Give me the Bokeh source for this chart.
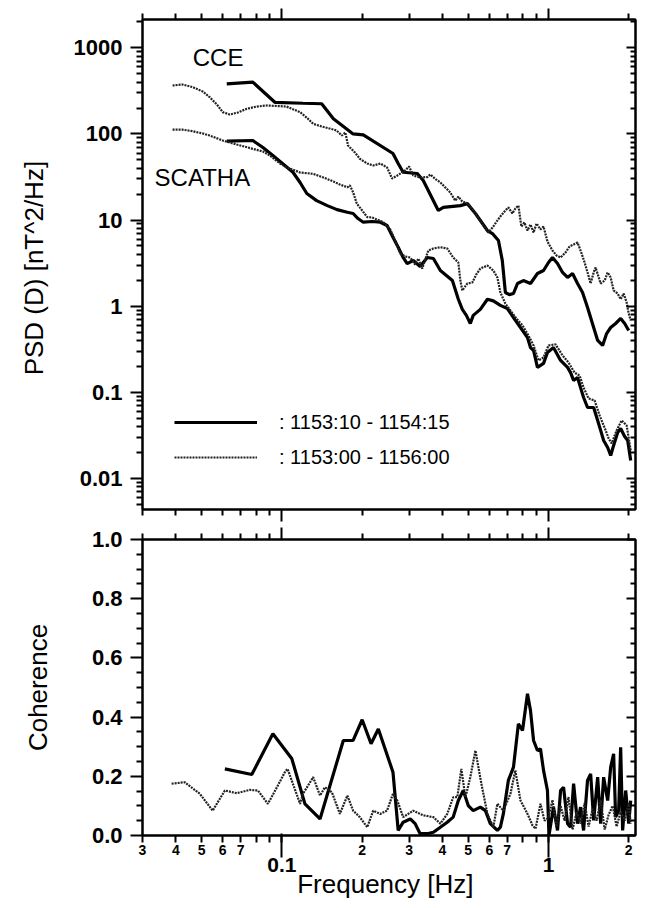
from bokeh.plotting import figure
from bokeh.layouts import column
from bokeh.models import (LogAxis, LinearAxis, FixedTicker, Range1d, Label,
                          Legend, LegendItem)
from bokeh.embed import file_html
from bokeh.resources import INLINE

FONT = "Liberation Sans"

# ---------------- data ----------------
cce_solid_f = [0.0621, 0.0778, 0.0941, 0.120, 0.141, 0.156, 0.185, 0.202, 0.261, 0.273,
               0.285, 0.322, 0.339, 0.386, 0.403, 0.467, 0.496, 0.532, 0.590, 0.616,
               0.649, 0.671, 0.689, 0.713, 0.739, 0.765, 0.805, 0.856, 0.909, 0.958,
               1.00, 1.035, 1.081, 1.129, 1.179, 1.231, 1.285, 1.342, 1.401, 1.477,
               1.529, 1.596, 1.652, 1.711, 1.786, 1.865, 1.931, 1.999]
cce_solid_psd = [382, 399, 233, 227, 224, 150, 100, 97.6, 59.2, 45.3,
                 35.9, 34.7, 28.8, 12.9, 14.0, 14.7, 15.5, 11.9, 7.55, 6.97,
                 5.78, 3.38, 1.44, 1.36, 1.40, 1.83, 1.98, 1.83, 2.39, 2.59,
                 3.21, 3.67, 3.12, 2.46, 2.15, 2.39, 1.83, 1.44, 0.963, 0.564,
                 0.399, 0.349, 0.480, 0.564, 0.628, 0.718, 0.628, 0.521]

cce_dot_f = [0.0389, 0.0424, 0.0463, 0.0505, 0.0536, 0.0570, 0.0600, 0.0637, 0.0683, 0.0739,
             0.0805, 0.0878, 0.0958, 0.104, 0.117, 0.125, 0.131, 0.141, 0.152, 0.160,
             0.168, 0.173, 0.177, 0.188, 0.196, 0.209, 0.220, 0.234, 0.248, 0.259,
             0.271, 0.290, 0.300, 0.311, 0.330, 0.351, 0.360, 0.379, 0.393, 0.410,
             0.428, 0.447, 0.459, 0.475, 0.500, 0.522, 0.555, 0.580, 0.595, 0.621,
             0.643, 0.660, 0.689, 0.707, 0.732, 0.751, 0.771, 0.791, 0.812, 0.834,
             0.856, 0.879, 0.902, 0.933, 0.958, 0.991, 1.035, 1.072, 1.110, 1.158,
             1.199, 1.242, 1.285, 1.319, 1.366, 1.401, 1.439, 1.477, 1.502, 1.569,
             1.624, 1.667, 1.711, 1.755, 1.817, 1.865, 1.914, 1.964, 1.999, 2.034]
cce_dot_psd = [365, 375, 349, 311, 267, 220, 179, 168, 177, 196,
               208, 214, 211, 208, 179, 151, 131, 122, 115, 110,
               95.8, 104, 73.3, 60.8, 51.4, 45.3, 42.9, 45.3, 40.7, 30.3,
               32.9, 37.6, 41.8, 32.9, 31.2, 31.5, 33.8, 29.5, 27.3, 23.9,
               20.9, 16.8, 18.7, 16.4, 15.5, 12.9, 9.87, 7.96, 7.16, 8.41,
               9.87, 11.0, 12.9, 14.0, 11.9, 13.6, 14.7, 8.41, 9.35, 7.55,
               8.87, 7.16, 9.11, 7.76, 8.41, 5.63, 4.42, 3.87, 3.67, 4.19,
               4.92, 5.19, 5.48, 4.42, 3.21, 2.46, 1.83, 2.46, 2.81, 1.83,
               1.98, 2.46, 2.15, 1.52, 1.40, 1.20, 1.40, 1.10, 0.821, 0.681]

sca_solid_f = [0.0621, 0.0778, 0.0849, 0.0925, 0.101, 0.110, 0.117, 0.124, 0.135, 0.148,
               0.161, 0.176, 0.185, 0.193, 0.202, 0.218, 0.234, 0.248, 0.261, 0.273,
               0.285, 0.295, 0.311, 0.330, 0.351, 0.370, 0.393, 0.414, 0.436, 0.459,
               0.475, 0.492, 0.509, 0.522, 0.555, 0.590, 0.621, 0.660, 0.701, 0.739,
               0.785, 0.834, 0.856, 0.879, 0.909, 0.958, 0.991, 1.044, 1.110, 1.179,
               1.210, 1.242, 1.285, 1.319, 1.354, 1.401, 1.477, 1.529, 1.569, 1.610,
               1.667, 1.711, 1.755, 1.817, 1.865, 1.931, 1.982, 2.034]
sca_solid_psd = [82.3, 83.8, 69.5, 56.1, 44.7, 35.9, 27.3, 20.3, 16.8, 14.7,
                 13.2, 12.3, 11.9, 10.4, 9.43, 9.61, 9.43, 8.63, 6.31, 4.83,
                 3.67, 3.12, 3.39, 2.88, 3.67, 3.57, 2.59, 2.27, 1.98, 1.20,
                 0.916, 0.780, 0.628, 0.780, 0.916, 1.20, 1.15, 1.02, 0.938, 0.737,
                 0.564, 0.432, 0.330, 0.305, 0.194, 0.216, 0.289, 0.330, 0.234, 0.194,
                 0.169, 0.137, 0.148, 0.113, 0.0868, 0.0664, 0.0664, 0.047, 0.036, 0.0275,
                 0.0228, 0.0184, 0.0241, 0.0340, 0.0379, 0.0306, 0.0275, 0.0161]

sca_dot_f = [0.0389, 0.0424, 0.0463, 0.0505, 0.0536, 0.0600, 0.0677, 0.0778, 0.0849, 0.0901,
             0.0983, 0.104, 0.112, 0.117, 0.131, 0.143, 0.156, 0.165, 0.176, 0.180,
             0.185, 0.191, 0.200, 0.209, 0.218, 0.228, 0.240, 0.255, 0.266, 0.278,
             0.290, 0.303, 0.316, 0.325, 0.336, 0.354, 0.370, 0.393, 0.417, 0.439,
             0.459, 0.467, 0.475, 0.496, 0.518, 0.536, 0.555, 0.590, 0.621, 0.643,
             0.660, 0.689, 0.720, 0.758, 0.799, 0.841, 0.879, 0.917, 0.958, 1.00,
             1.062, 1.129, 1.189, 1.252, 1.308, 1.354, 1.414, 1.489, 1.555, 1.638,
             1.681, 1.725, 1.801, 1.881, 1.964, 2.034]
sca_dot_psd = [112, 112, 107.5, 101, 95.8, 83.8, 75.3, 67.1, 62.5, 56.1,
               45.3, 41.0, 37.6, 35.6, 34.4, 31.2, 28.0, 25.8, 24.0, 25.2,
               20.9, 15.5, 12.9, 10.8, 10.7, 10.1, 9.43, 7.76, 5.78, 4.08,
               3.77, 3.67, 3.04, 3.57, 2.73, 4.42, 4.67, 4.83, 4.67, 3.67,
               3.21, 1.98, 1.52, 1.83, 1.88, 2.33, 2.73, 2.96, 2.59, 2.15,
               1.44, 1.07, 0.889, 0.718, 0.596, 0.456, 0.349, 0.234, 0.253, 0.349,
               0.36, 0.267, 0.221, 0.169, 0.156, 0.113, 0.0845, 0.0802, 0.0537, 0.036,
               0.029, 0.0254, 0.036, 0.047, 0.0411, 0.0211]

coh_solid_f = [0.0611, 0.0771, 0.0925, 0.109, 0.122, 0.139, 0.170, 0.185, 0.200, 0.216,
               0.230, 0.261, 0.273, 0.285, 0.303, 0.316, 0.330, 0.351, 0.370, 0.393,
               0.417, 0.439, 0.459, 0.479, 0.500, 0.522, 0.555, 0.580, 0.605, 0.643,
               0.660, 0.677, 0.707, 0.739, 0.771, 0.799, 0.834, 0.856, 0.879, 0.909,
               0.933, 0.958, 0.991, 1.004, 1.044, 1.081, 1.110, 1.139, 1.179, 1.210,
               1.242, 1.285, 1.319, 1.354, 1.401, 1.439, 1.477, 1.529, 1.569, 1.610,
               1.667, 1.711, 1.755, 1.786, 1.833, 1.865, 1.897, 1.948, 1.999, 2.034]
coh_solid = [0.225, 0.206, 0.344, 0.259, 0.107, 0.056, 0.321, 0.321, 0.391, 0.310,
             0.360, 0.214, 0.017, 0.045, 0.056, 0.040, 0.006, 0.006, 0.011, 0.028,
             0.045, 0.062, 0.118, 0.152, 0.101, 0.084, 0.096, 0.084, 0.040, 0.017,
             0.028, 0.073, 0.186, 0.231, 0.377, 0.355, 0.479, 0.422, 0.321, 0.287,
             0.293, 0.220, 0.152, 0.0, 0.096, 0.017, 0.152, 0.163, 0.040, 0.028,
             0.175, 0.040, 0.096, 0.017, 0.186, 0.208, 0.051, 0.197, 0.040, 0.197,
             0.118, 0.231, 0.276, 0.062, 0.084, 0.298, 0.017, 0.152, 0.040, 0.118]

coh_dot_f = [0.0386, 0.0432, 0.0492, 0.0550, 0.0611, 0.0677, 0.0758, 0.0813, 0.0886, 0.0958,
             0.103, 0.105, 0.117, 0.120, 0.131, 0.139, 0.145, 0.154, 0.165, 0.176,
             0.185, 0.196, 0.209, 0.220, 0.234, 0.248, 0.261, 0.271, 0.285, 0.311,
             0.339, 0.370, 0.393, 0.417, 0.439, 0.455, 0.471, 0.488, 0.509, 0.532,
             0.560, 0.590, 0.621, 0.643, 0.677, 0.720, 0.751, 0.785, 0.805, 0.834,
             0.871, 0.894, 0.933, 0.966, 1.00, 1.035, 1.072, 1.110, 1.149, 1.189,
             1.231, 1.275, 1.319, 1.366, 1.414, 1.464, 1.515, 1.569, 1.624, 1.681,
             1.740, 1.801, 1.865, 1.931, 1.999, 2.034]
coh_dot = [0.175, 0.180, 0.141, 0.084, 0.152, 0.143, 0.154, 0.152, 0.107, 0.163,
           0.217, 0.225, 0.107, 0.141, 0.197, 0.135, 0.163, 0.146, 0.073, 0.135,
           0.084, 0.062, 0.028, 0.084, 0.073, 0.084, 0.141, 0.118, 0.062, 0.084,
           0.068, 0.062, 0.040, 0.073, 0.129, 0.130, 0.225, 0.129, 0.197, 0.287,
           0.175, 0.073, 0.028, 0.107, 0.084, 0.141, 0.220, 0.118, 0.100, 0.073,
           0.034, 0.023, 0.107, 0.050, 0.060, 0.120, 0.030, 0.100, 0.050, 0.130,
           0.020, 0.080, 0.040, 0.110, 0.030, 0.090, 0.050, 0.120, 0.020, 0.070,
           0.100, 0.030, 0.080, 0.050, 0.110, 0.040]

# ticks and tick labels
x_major_ticks = [0.1, 1.0]
x_minor_ticks = [0.03, 0.04, 0.05, 0.06, 0.07, 0.08, 0.09,
                 0.2, 0.3, 0.4, 0.5, 0.6, 0.7, 0.8, 0.9, 2.0]
x_small_ticks = [0.03, 0.04, 0.05, 0.06, 0.07, 0.08, 0.09, 0.1,
                 0.2, 0.3, 0.4, 0.5, 0.6, 0.7, 0.8, 0.9, 1.0, 2.0]
x_small_labels = ["3", "4", "5", "6", "7", "", "", "",
                  "2", "3", "4", "5", "6", "7", "", "", "", "2"]
x_big_ticks = [0.1, 1.0]
x_big_labels = ["0.1", "1"]

psd_ticks = [0.01, 0.1, 1.0, 10.0, 100.0, 1000.0]
psd_labels = ["0.01", "0.1", "1", "10", "100", "1000"]
psd_minor = [m * d for d in [0.001, 0.01, 0.1, 1.0, 10.0, 100.0, 1000.0]
             for m in [2, 3, 4, 5, 6, 7, 8, 9]]

coh_ticks = [0.0, 0.2, 0.4, 0.6, 0.8, 1.0]
coh_labels = ["0.0", "0.2", "0.4", "0.6", "0.8", "1.0"]
coh_minor = [0.05, 0.1, 0.15, 0.25, 0.3, 0.35, 0.45, 0.5, 0.55,
             0.65, 0.7, 0.75, 0.85, 0.9, 0.95]

legend_labels = [": 1153:10 - 1154:15", ": 1153:00 - 1156:00"]

SOLID = dict(line_color="black", line_width=3.2)
DOT = dict(line_color="#222222", line_width=2.2, line_dash="2 1")


def blank(ticks):
    return {t: "" for t in ticks}


def style_axis(ax, tick_out=0, tick_in=0, minor_out=0, minor_in=0):
    ax.axis_line_width = 2
    ax.axis_line_color = "black"
    ax.major_tick_line_width = 2
    ax.minor_tick_line_width = 2
    ax.major_tick_out = tick_out
    ax.major_tick_in = tick_in
    ax.minor_tick_out = minor_out
    ax.minor_tick_in = minor_in
    ax.major_label_text_font = FONT
    ax.major_label_text_font_style = "bold"
    ax.major_label_text_color = "black"
    ax.axis_label_text_font = FONT
    ax.axis_label_text_font_style = "normal"
    ax.axis_label_text_color = "black"


# ---------------- top panel: PSD ----------------
p1 = figure(x_axis_type="log", y_axis_type="log",
            frame_width=493, frame_height=490,
            x_range=Range1d(0.03, 2.12), y_range=Range1d(0.00434, 2133),
            min_border_left=142, min_border_right=2, min_border_top=19,
            min_border_bottom=15,
            output_backend="svg", toolbar_location=None)
p1.grid.visible = False
p1.outline_line_color = "black"
p1.outline_line_width = 2
p1.background_fill_color = "white"
p1.border_fill_color = "white"

r_cs = p1.line(cce_solid_f, cce_solid_psd, **SOLID)
r_cd = p1.line(cce_dot_f, cce_dot_psd, **DOT)
p1.line(sca_solid_f, sca_solid_psd, **SOLID)
p1.line(sca_dot_f, sca_dot_psd, **DOT)

xb = p1.xaxis[0]
xb.ticker = FixedTicker(ticks=x_major_ticks, minor_ticks=x_minor_ticks)
xb.major_label_overrides = blank(x_major_ticks)
xb.major_label_standoff = 0
style_axis(xb, tick_out=12, minor_out=6)

xt = LogAxis(ticker=FixedTicker(ticks=x_major_ticks, minor_ticks=x_minor_ticks),
             major_label_overrides=blank(x_major_ticks), major_label_standoff=0)
style_axis(xt, tick_out=11, minor_out=6)
p1.add_layout(xt, "above")

yl = p1.yaxis[0]
yl.ticker = FixedTicker(ticks=psd_ticks, minor_ticks=psd_minor)
yl.major_label_overrides = dict(zip(psd_ticks, psd_labels))
yl.major_label_text_font_size = "22px"
yl.major_label_standoff = 8
yl.axis_label = "PSD (D)  [nT^2/Hz]"
yl.axis_label_text_font_size = "26px"
yl.axis_label_standoff = 22
style_axis(yl, tick_out=12, minor_out=6)

yr = LogAxis(ticker=FixedTicker(ticks=psd_ticks, minor_ticks=psd_minor),
             major_label_overrides=blank(psd_ticks), major_label_standoff=0)
style_axis(yr, tick_in=9, minor_in=5)
p1.add_layout(yr, "right")

p1.add_layout(Label(x=0.0463, y=771, text="CCE", text_font=FONT,
                    text_font_size="24px", text_baseline="middle",
                    text_color="black"))
p1.add_layout(Label(x=0.0333, y=31.2, text="SCATHA", text_font=FONT,
                    text_font_size="24px", text_baseline="middle",
                    text_color="black"))

legend = Legend(items=[LegendItem(label=legend_labels[0], renderers=[r_cs]),
                       LegendItem(label=legend_labels[1], renderers=[r_cd])],
                location=(32, 40), orientation="vertical",
                glyph_width=83, glyph_height=24, label_height=24, spacing=11,
                padding=0, margin=0, label_standoff=22,
                border_line_color=None, background_fill_alpha=0,
                label_text_font=FONT, label_text_font_size="20px",
                label_text_color="black")
p1.add_layout(legend)

# ---------------- bottom panel: coherence ----------------
p2 = figure(x_axis_type="log",
            frame_width=493, frame_height=296,
            x_range=Range1d(0.03, 2.12), y_range=Range1d(0.0, 1.0),
            min_border_left=142, min_border_right=2, min_border_top=15,
            min_border_bottom=65,
            output_backend="svg", toolbar_location=None)
p2.grid.visible = False
p2.outline_line_color = "black"
p2.outline_line_width = 2
p2.background_fill_color = "white"
p2.border_fill_color = "white"

p2.line(coh_solid_f, coh_solid, **SOLID)
p2.line(coh_dot_f, coh_dot, **DOT)

xb2 = p2.xaxis[0]
xb2.ticker = FixedTicker(ticks=x_small_ticks)
xb2.major_label_overrides = dict(zip(x_small_ticks, x_small_labels))
xb2.major_label_text_font_size = "14px"
xb2.major_label_standoff = 2
style_axis(xb2, tick_out=7)

xb3 = LogAxis(ticker=FixedTicker(ticks=x_big_ticks),
              major_label_overrides=dict(zip(x_big_ticks, x_big_labels)),
              major_label_standoff=0, axis_label="Frequency  [Hz]")
style_axis(xb3, tick_in=24)
xb3.axis_line_color = None
xb3.major_label_text_font_size = "21px"
xb3.axis_label_text_font_size = "26px"
xb3.axis_label_standoff = -6
p2.add_layout(xb3, "below")

xt2 = LogAxis(ticker=FixedTicker(ticks=x_major_ticks, minor_ticks=x_minor_ticks),
              major_label_overrides=blank(x_major_ticks), major_label_standoff=0)
style_axis(xt2, tick_out=12, minor_out=6)
p2.add_layout(xt2, "above")

yl2 = p2.yaxis[0]
yl2.ticker = FixedTicker(ticks=coh_ticks, minor_ticks=coh_minor)
yl2.major_label_overrides = dict(zip(coh_ticks, coh_labels))
yl2.major_label_text_font_size = "22px"
yl2.major_label_standoff = 8
yl2.axis_label = "Coherence"
yl2.axis_label_text_font_size = "26px"
yl2.axis_label_standoff = 36
style_axis(yl2, tick_out=12, minor_out=6)

yr2 = LinearAxis(ticker=FixedTicker(ticks=coh_ticks, minor_ticks=coh_minor),
                 major_label_overrides=blank(coh_ticks), major_label_standoff=0)
style_axis(yr2, tick_in=9, minor_in=5)
p2.add_layout(yr2, "right")

layout = column(p1, p2)
open("out.html", "w").write(file_html(layout, INLINE))
